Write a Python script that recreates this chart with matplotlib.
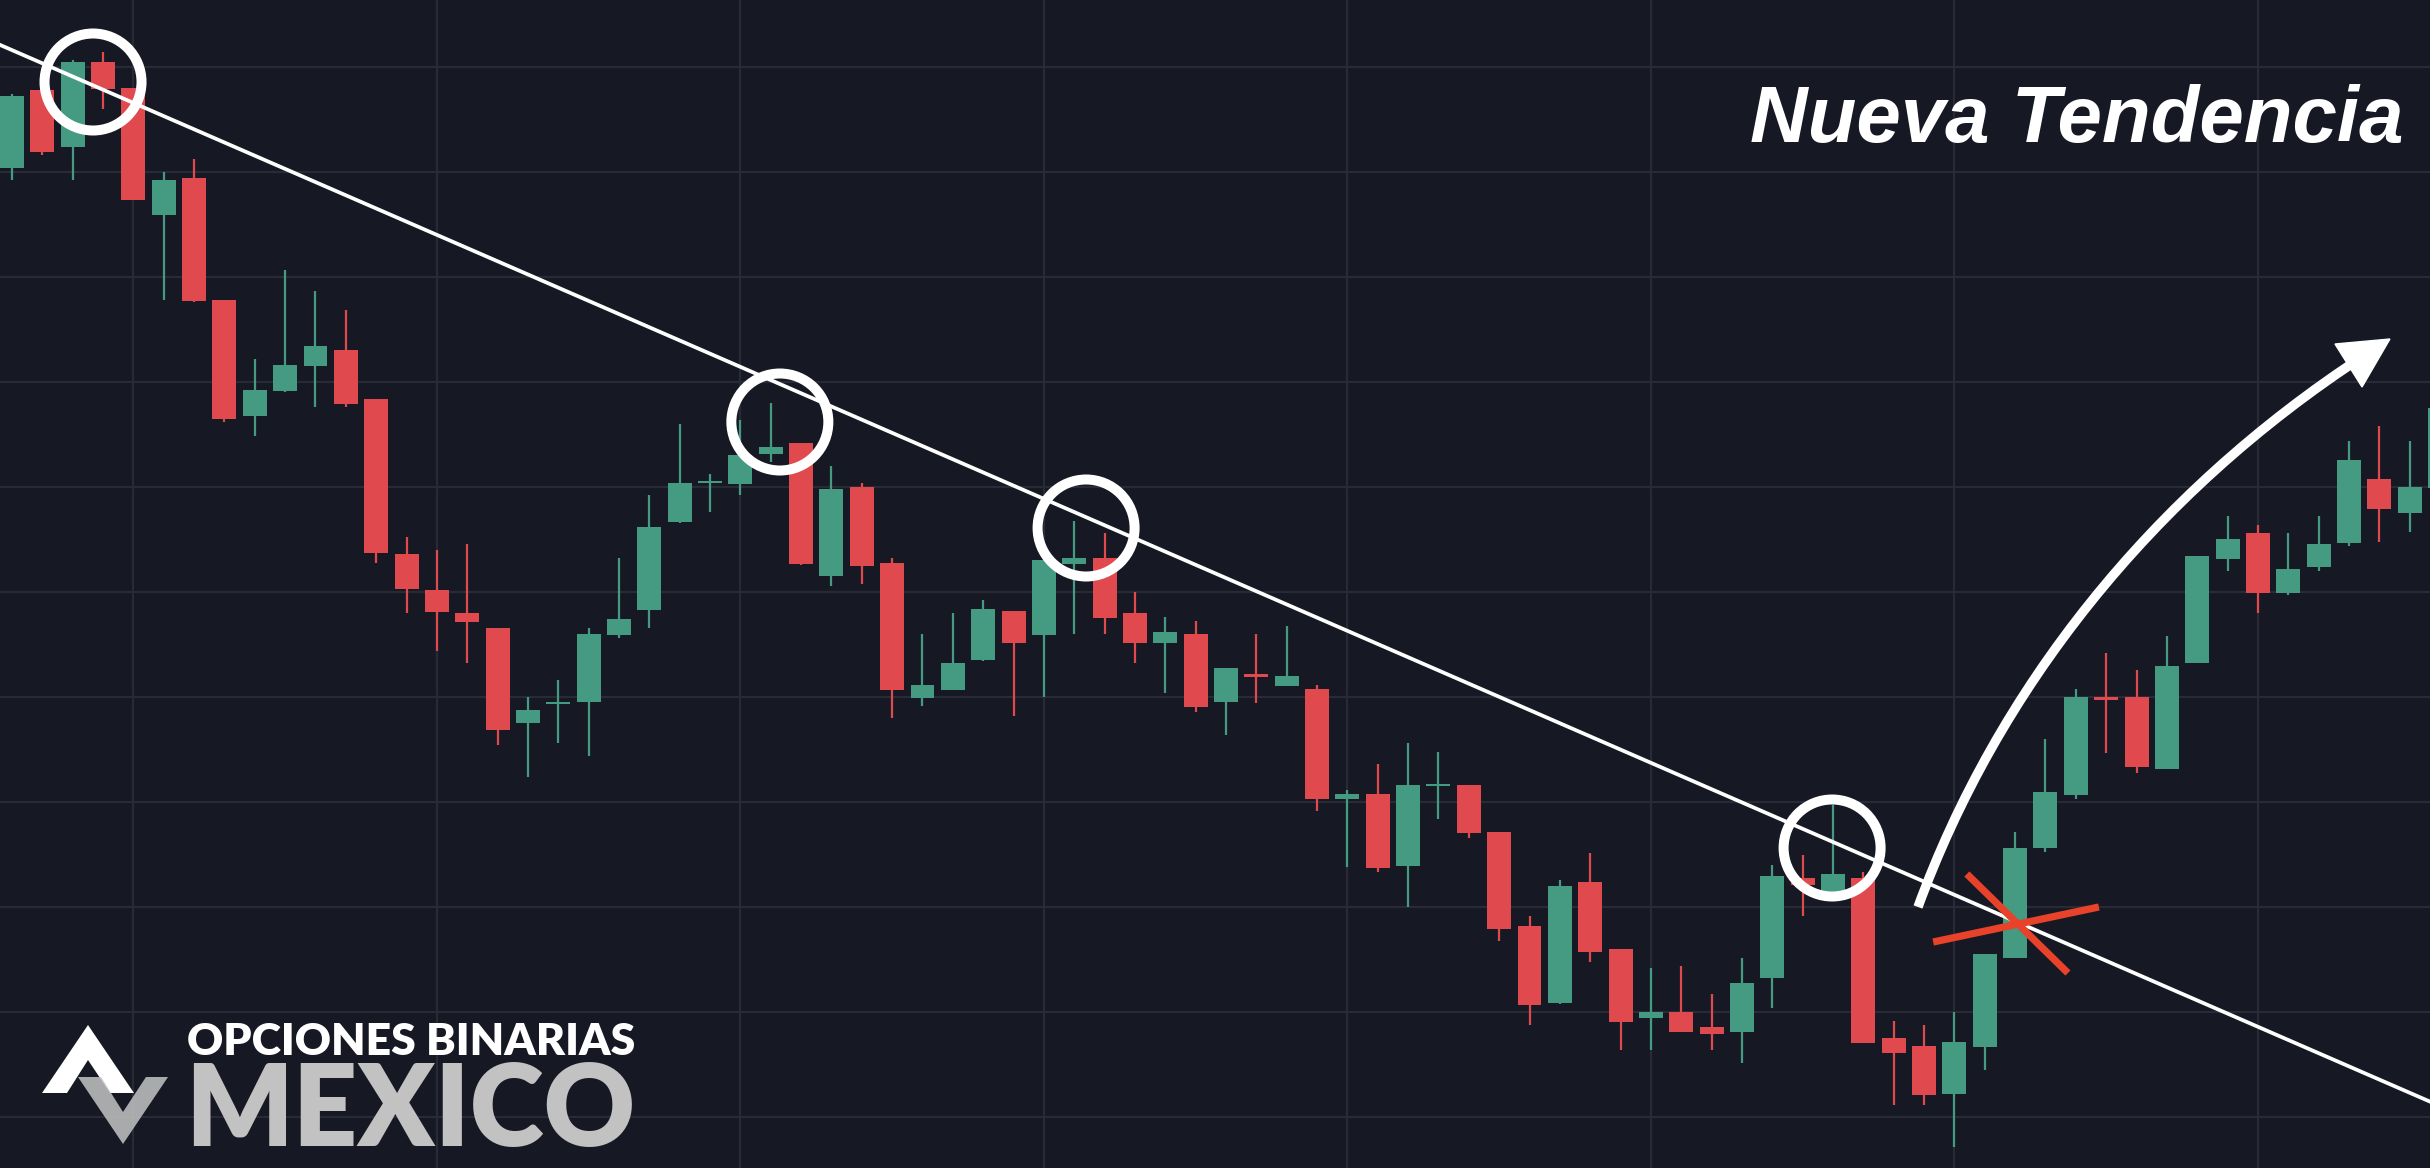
import matplotlib
matplotlib.use("Agg")
import matplotlib.pyplot as plt
from matplotlib.patches import Ellipse, PathPatch, Polygon
from matplotlib.path import Path

# candle data (price units, 1 unit ~ 1 px)
opens = [1032, 1110, 1053, 1138, 1112, 985, 1022, 900, 784, 809,
         834, 850, 801, 646, 610, 587, 572, 477, 496, 498,
         565, 590, 678, 717, 716, 746, 757, 624, 713, 637,
         502, 510, 540, 589, 565, 636, 642, 587, 557, 566,
         498, 526, 514, 511, 401, 406, 334, 414, 415, 368,
         274, 197, 318, 251, 182, 188, 173, 168, 222, 322,
         308, 322, 162, 154, 106, 153, 242, 352, 405, 503,
         503, 431, 537, 641, 667, 607, 633, 657, 721, 687, 712]
highs = [1106, 1110, 1140, 1148, 1112, 1028, 1041, 900, 841, 930,
         909, 890, 801, 663, 650, 656, 572, 503, 520, 572,
         642, 705, 776, 726, 780, 797, 757, 734, 717, 642,
         566, 587, 600, 589, 640, 679, 667, 608, 583, 579,
         532, 566, 574, 515, 410, 436, 457, 448, 415, 368,
         284, 320, 347, 251, 232, 234, 206, 242, 335, 345,
         395, 328, 179, 175, 188, 246, 368, 461, 511, 547,
         530, 564, 644, 684, 675, 667, 684, 759, 774, 759, 800]
lows = [1020, 1045, 1020, 1091, 1000, 900, 898, 778, 764, 808,
        793, 793, 637, 587, 549, 537, 455, 423, 457, 444,
        562, 572, 677, 688, 705, 738, 635, 614, 616, 482,
        494, 510, 539, 484, 503, 566, 566, 537, 507, 488,
        465, 497, 514, 389, 333, 328, 293, 381, 362, 259,
        175, 196, 238, 150, 150, 168, 150, 137, 192, 284,
        308, 157, 95, 95, 53, 130, 242, 348, 401, 447,
        427, 431, 537, 629, 587, 605, 629, 654, 658, 668, 670]
closes = [1104, 1048, 1138, 1111, 1000, 1020, 899, 781, 810, 835,
          854, 796, 647, 611, 588, 578, 470, 490, 498, 566,
          581, 673, 717, 719, 745, 753, 636, 711, 634, 510,
          515, 537, 591, 557, 640, 642, 582, 557, 568, 493,
          532, 523, 524, 401, 406, 332, 415, 416, 367, 271,
          195, 314, 248, 178, 188, 168, 166, 217, 324, 315,
          326, 157, 147, 105, 158, 246, 352, 408, 503, 500,
          433, 534, 644, 661, 607, 631, 656, 740, 691, 713, 792]

grid_prices = [1133, 1028, 923, 818, 713, 608, 503, 398, 293, 188, 83]
grid_candles = [4, 14, 24, 34, 44, 54, 64, 74]

# annotations anchored to candle index / price
touch_circles = [(2.67, 1118), (25.30, 778), (35.39, 672), (59.97, 352)]
trend_a = (2, 1123.5)
trend_b = (60, 358)
cross_a = [(63.30, 258), (68.76, 293)]
cross_b = [(64.41, 326), (67.74, 227)]
arc_pts = [(62.80, 293), (65.40, 509), (70.44, 705), (77.53, 845)]
arrow_head = [(78.35, 861), (76.54, 856), (77.43, 813)]

bg = "#161923"
grid_col = "#282b36"
up_col = "#459a82"
down_col = "#e04a4e"

fig = plt.figure(figsize=(24.3, 11.68), dpi=100)
fig.patch.set_facecolor(bg)
ax = fig.add_axes([0, 0, 1, 1])
ax.set_facecolor(bg)
ax.set_xlim(-0.395, 79.67)
ax.set_ylim(32, 1200)

ax.set_xticks(grid_candles)
ax.set_yticks(grid_prices)
ax.grid(True, color=grid_col, lw=1.6)
ax.set_axisbelow(True)
ax.tick_params(length=0, labelbottom=False, labelleft=False)
for s in ax.spines.values():
    s.set_visible(False)

idx = list(range(len(opens)))
cols = [up_col if c >= o else down_col for o, c in zip(opens, closes)]
ax.vlines(idx, lows, highs, colors=cols, lw=1.6, zorder=2)
bottoms = [min(o, c) for o, c in zip(opens, closes)]
heights = [max(abs(c - o), 2.5) for o, c in zip(opens, closes)]
ax.bar(idx, heights, bottom=bottoms, width=0.79, color=cols, zorder=3)

# trendline
ax.axline(trend_a, trend_b, color="white", lw=2.7, zorder=4)

# touch circles (ring radius ~48 px)
for cx, cy in touch_circles:
    ax.add_patch(Ellipse((cx, cy), width=2 * 48.5 / 30.35, height=97,
                         fill=False, ec="white", lw=7.2, zorder=5))

# red cross on the break
for seg in (cross_a, cross_b):
    ax.plot([p[0] for p in seg], [p[1] for p in seg], color="#e8432a",
            lw=5.2, solid_capstyle="butt", zorder=6)

# curved arrow
arc = Path(arc_pts, [Path.MOVETO, Path.CURVE4, Path.CURVE4, Path.CURVE4])
ax.add_patch(PathPatch(arc, fill=False, ec="white", lw=6.8,
                       capstyle="butt", zorder=7))
ax.add_patch(Polygon(arrow_head, closed=True, fc="white", ec="white",
                     lw=1, zorder=7))

# overlay in pixel space for title and logo
ov = fig.add_axes([0, 0, 1, 1])
ov.set_xlim(0, 2430)
ov.set_ylim(1168, 0)
ov.axis("off")
ov.patch.set_alpha(0)

ov.text(2403, 142, "Nueva Tendencia", ha="right", va="baseline",
        fontsize=57.5, fontweight="bold", style="italic",
        family="Liberation Sans", color="white")

ov.text(187, 1055, "OPCIONES BINARIAS", ha="left", va="baseline",
        fontsize=32, fontweight="heavy", family="Lato", color="white")
ov.text(185, 1146, "MEXICO", ha="left", va="baseline",
        fontsize=81, fontweight="heavy", family="Lato", color="#c2c2c2")

tri_a = Path([(88, 1025), (42, 1093), (134, 1093), (88, 1025),
              (88, 1060), (110, 1093), (67, 1093), (88, 1060)],
             [Path.MOVETO, Path.LINETO, Path.LINETO, Path.CLOSEPOLY] * 2)
ov.add_patch(PathPatch(tri_a, fc="white", ec="none"))
tri_v = Path([(78, 1077), (168, 1077), (123, 1144), (78, 1077),
              (101, 1077), (123, 1112), (146, 1077), (101, 1077)],
             [Path.MOVETO, Path.LINETO, Path.LINETO, Path.CLOSEPOLY] * 2)
ov.add_patch(PathPatch(tri_v, fc="#c4c4c4", ec="none", alpha=0.85))

fig.savefig("out.png", dpi=100, facecolor=bg)
